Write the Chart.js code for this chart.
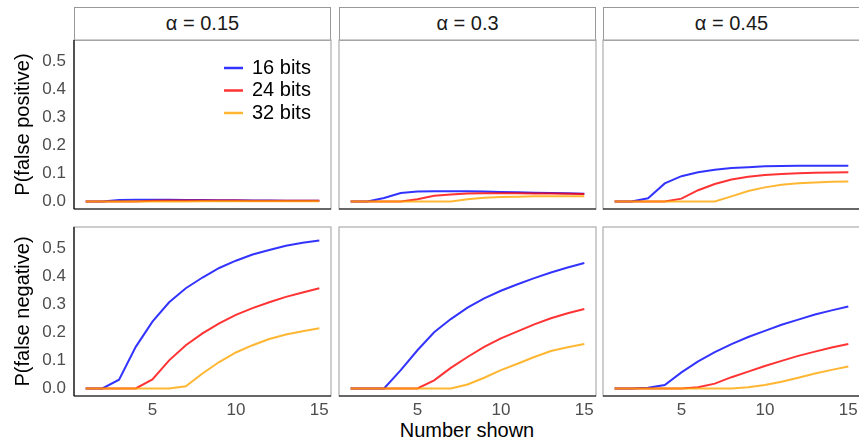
<!DOCTYPE html>
<html>
<head>
<meta charset="utf-8">
<script src="https://cdn.jsdelivr.net/npm/chart.js@4.4.1/dist/chart.umd.min.js"></script>
<style>
  body {
    margin: 0;
    width: 859px;
    height: 445px;
    overflow: hidden;
    background: #fff;
    position: relative;
    font-family: "Liberation Sans", Arial, sans-serif;
  }
  .strip {
    position: absolute;
    top: 7px;
    width: 257px;
    height: 34px;
    box-sizing: border-box;
    border: 1px solid #999;
    background: #fff;
    text-align: center;
    font-size: 20px;
    line-height: 31px;
    color: #1a1a1a;
  }
  .panel { position: absolute; }
  #xtitle {
    position: absolute;
    left: 317px;
    top: 418px;
    width: 300px;
    text-align: center;
    font-size: 20px;
    line-height: 24px;
    color: #000;
  }
</style>
</head>
<body>
<div id="xtitle">Number shown</div>
<script>
const shown = [1, 2, 3, 4, 5, 6, 7, 8, 9, 10, 11, 12, 13, 14, 15];
const alphaLabels = ["0.15", "0.3", "0.45"];
const bitLabels = ["16 bits", "24 bits", "32 bits"];
const xTicks = [5, 10, 15];
const yTicks = [0, 0.1, 0.2, 0.3, 0.4, 0.5];

// false positive rate, one row per alpha (0.15, 0.3, 0.45)
const fp16 = [
  [0, 0, 0.005, 0.006, 0.006, 0.006, 0.005, 0.005, 0.004, 0.004, 0.003, 0.003, 0.002, 0.002, 0.002],
  [0, 0, 0.012, 0.03, 0.035, 0.036, 0.036, 0.036, 0.035, 0.034, 0.033, 0.031, 0.03, 0.029, 0.027],
  [0, 0, 0.011, 0.064, 0.09, 0.104, 0.113, 0.119, 0.122, 0.125, 0.126, 0.127, 0.127, 0.127, 0.127]
];
const fp24 = [
  [0, 0, 0, 0, 0.002, 0.003, 0.003, 0.003, 0.003, 0.003, 0.002, 0.002, 0.002, 0.002, 0.002],
  [0, 0, 0, 0, 0.008, 0.02, 0.025, 0.028, 0.029, 0.029, 0.029, 0.028, 0.028, 0.027, 0.026],
  [0, 0, 0, 0, 0.01, 0.04, 0.062, 0.078, 0.088, 0.094, 0.098, 0.1, 0.102, 0.103, 0.104]
];
const fp32 = [
  [0, 0, 0, 0, 0, 0, 0, 0.001, 0.001, 0.001, 0.001, 0.001, 0.001, 0.001, 0.001],
  [0, 0, 0, 0, 0, 0, 0, 0.008, 0.013, 0.016, 0.017, 0.018, 0.018, 0.018, 0.018],
  [0, 0, 0, 0, 0, 0, 0, 0.018, 0.037, 0.05, 0.059, 0.065, 0.067, 0.07, 0.071]
];

// false negative rate, same layout
const fn16 = [
  [0, 0, 0.031, 0.148, 0.238, 0.307, 0.357, 0.395, 0.429, 0.455, 0.477, 0.493, 0.508, 0.519, 0.527],
  [0, 0, 0, 0.065, 0.136, 0.2, 0.247, 0.288, 0.321, 0.348, 0.371, 0.393, 0.413, 0.431, 0.447],
  [0, 0, 0.002, 0.012, 0.057, 0.096, 0.129, 0.158, 0.183, 0.205, 0.227, 0.245, 0.263, 0.278, 0.292]
];
const fn24 = [
  [0, 0, 0, 0, 0.032, 0.1, 0.154, 0.196, 0.232, 0.262, 0.286, 0.307, 0.326, 0.342, 0.357],
  [0, 0, 0, 0, 0, 0.029, 0.073, 0.112, 0.148, 0.178, 0.203, 0.228, 0.25, 0.268, 0.283],
  [0, 0, 0, 0, 0, 0.004, 0.017, 0.04, 0.06, 0.08, 0.098, 0.116, 0.131, 0.146, 0.158]
];
const fn32 = [
  [0, 0, 0, 0, 0, 0, 0.008, 0.053, 0.094, 0.128, 0.154, 0.176, 0.192, 0.204, 0.214],
  [0, 0, 0, 0, 0, 0, 0, 0.014, 0.038, 0.065, 0.088, 0.112, 0.133, 0.147, 0.158],
  [0, 0, 0, 0, 0, 0, 0, 0, 0.004, 0.012, 0.024, 0.038, 0.053, 0.066, 0.078]
];

const lineColors = ["rgba(0, 0, 255, 0.8)", "rgba(255, 0, 0, 0.8)", "rgba(255, 165, 0, 0.8)"];
const rows = [
  { title: "P(false positive)", series: [fp16, fp24, fp32] },
  { title: "P(false negative)", series: [fn16, fn24, fn32] }
];

const colLeft = [74, 339, 603];
const rowTop = [40, 227];
const panelW = 257;
const panelH = 169;
const fontFamily = '"Liberation Sans", Arial, sans-serif';
const tickColor = "#4d4d4d";

Chart.defaults.font.family = fontFamily;

// grey panel box plus black axis lines
const panelFrame = {
  id: "panelFrame",
  afterDatasetsDraw(chart, args, opts) {
    const { ctx, chartArea: a } = chart;
    ctx.save();
    ctx.strokeStyle = "#adadad";
    ctx.lineWidth = 1.2;
    ctx.strokeRect(a.left, a.top, a.right - a.left, a.bottom - a.top);
    ctx.strokeStyle = "#000";
    ctx.lineWidth = 1.2;
    ctx.beginPath();
    ctx.moveTo(a.left, a.bottom);
    ctx.lineTo(a.right, a.bottom);
    if (opts.leftAxis) {
      ctx.moveTo(a.left, a.top);
      ctx.lineTo(a.left, a.bottom);
    }
    ctx.stroke();
    ctx.restore();
  }
};

// legend drawn inside the first panel
const keyLegend = {
  id: "keyLegend",
  afterDatasetsDraw(chart, args, opts) {
    if (!opts.show) return;
    const { ctx, chartArea: a } = chart;
    ctx.save();
    ctx.font = "20px " + fontFamily;
    ctx.textBaseline = "middle";
    chart.data.datasets.forEach((ds, i) => {
      const y = a.top + 28 + i * 22.5;
      ctx.strokeStyle = ds.borderColor;
      ctx.lineWidth = 2.5;
      ctx.beginPath();
      ctx.moveTo(a.left + 150, y);
      ctx.lineTo(a.left + 169, y);
      ctx.stroke();
      ctx.fillStyle = "#000";
      ctx.fillText(ds.label, a.left + 178, y);
    });
    ctx.restore();
  }
};

// fixed axis sizes so every panel has the same plotting area
function fixAxisSize(s) {
  if (s.options.display) {
    if (s.isHorizontal()) s.height = 48;
    else s.width = 74;
  }
  s.paddingTop = 0;
  s.paddingBottom = 0;
  s.paddingLeft = 0;
  s.paddingRight = 0;
}

alphaLabels.forEach((a, c) => {
  const strip = document.createElement("div");
  strip.className = "strip";
  strip.style.left = colLeft[c] + "px";
  strip.textContent = "α = " + a;
  document.body.appendChild(strip);
});

rows.forEach((row, r) => {
  alphaLabels.forEach((a, c) => {
    const leftExtra = c === 0 ? 74 : 2;
    const bottomExtra = r === 1 ? 48 : 2;
    const canvas = document.createElement("canvas");
    canvas.className = "panel";
    canvas.width = panelW + leftExtra + 2;
    canvas.height = panelH + 2 + bottomExtra;
    canvas.style.left = colLeft[c] - leftExtra + "px";
    canvas.style.top = rowTop[r] - 2 + "px";
    document.body.appendChild(canvas);

    new Chart(canvas, {
      type: "line",
      plugins: [panelFrame, keyLegend],
      data: {
        datasets: row.series.map((s, k) => ({
          label: bitLabels[k],
          data: shown.map((x, i) => ({ x: x, y: s[c][i] })),
          borderColor: lineColors[k],
          borderWidth: 2,
          pointRadius: 0,
          tension: 0,
          fill: false,
          order: 3 - k
        }))
      },
      options: {
        responsive: false,
        maintainAspectRatio: false,
        animation: false,
        events: [],
        layout: {
          padding: { left: c === 0 ? 0 : 2, top: 2, right: 2, bottom: r === 1 ? 0 : 2 }
        },
        scales: {
          x: {
            type: "linear",
            min: 0.3,
            max: 15.7,
            display: r === 1,
            afterFit: fixAxisSize,
            afterBuildTicks: (s) => { s.ticks = xTicks.map((v) => ({ value: v })); },
            grid: { display: false, drawTicks: false },
            border: { display: false },
            ticks: {
              font: { size: 17 },
              color: tickColor,
              padding: 4,
              maxRotation: 0,
              autoSkip: false
            }
          },
          y: {
            type: "linear",
            min: -0.027,
            max: 0.575,
            display: c === 0,
            afterFit: fixAxisSize,
            afterBuildTicks: (s) => { s.ticks = yTicks.map((v) => ({ value: v })); },
            grid: { display: false, drawTicks: false },
            border: { display: false },
            ticks: {
              font: { size: 17 },
              color: tickColor,
              padding: 8,
              autoSkip: false,
              callback: (v) => v.toFixed(1)
            },
            title: {
              display: true,
              text: row.title,
              color: "#000",
              font: { size: 20 },
              padding: { top: 11, bottom: 0 }
            }
          }
        },
        plugins: {
          legend: { display: false },
          tooltip: { enabled: false },
          panelFrame: { leftAxis: c === 0 },
          keyLegend: { show: r === 0 && c === 0 }
        }
      }
    });
  });
});
</script>
</body>
</html>
